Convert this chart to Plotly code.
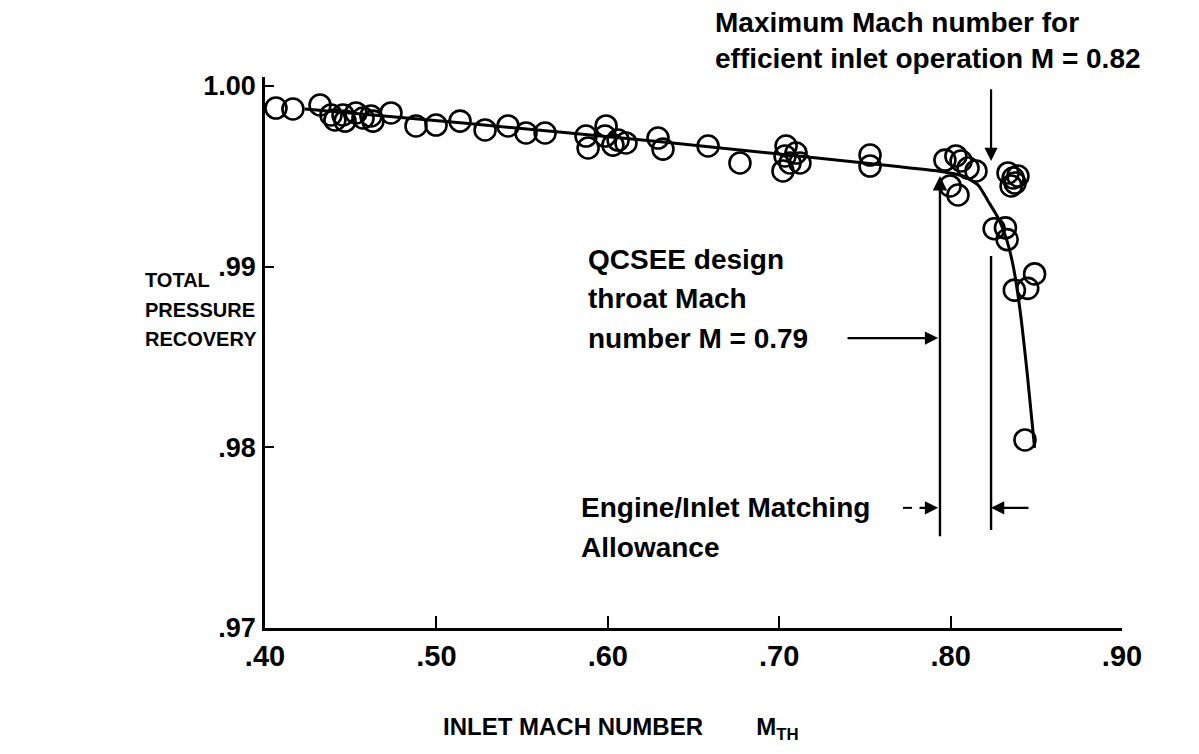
import plotly.graph_objects as go

# ---------------- data ----------------
mach = [0.4064, 0.4163, 0.4321, 0.4385, 0.4408, 0.4467, 0.4455, 0.4531, 0.4572,
        0.4618, 0.4630, 0.4735, 0.4881, 0.4998, 0.5138, 0.5284, 0.5418, 0.5523,
        0.5634, 0.5873, 0.5885, 0.5990, 0.5984, 0.6030, 0.6106, 0.6060, 0.6293,
        0.6322, 0.6585, 0.6771, 0.7040, 0.7034, 0.7098, 0.7022, 0.7121, 0.7063,
        0.7530, 0.7530, 0.7967, 0.8031, 0.8061, 0.8102, 0.8148, 0.8043, 0.7997,
        0.8335, 0.8365, 0.8376, 0.8393, 0.8353, 0.8254, 0.8320, 0.8330, 0.8490,
        0.8372, 0.8450, 0.8434]
recovery = [0.99878, 0.99873, 0.99895, 0.99840, 0.99812, 0.99806, 0.99840, 0.99851,
            0.99823, 0.99834, 0.99806, 0.99851, 0.99779, 0.99784, 0.99806, 0.99757,
            0.99779, 0.99740, 0.99740, 0.99723, 0.99657, 0.99779, 0.99723, 0.99673,
            0.99685, 0.99701, 0.99712, 0.99651, 0.99668, 0.99574, 0.99668, 0.99613,
            0.99629, 0.99530, 0.99574, 0.99574, 0.99618, 0.99557, 0.99590, 0.99613,
            0.99585, 0.99546, 0.99530, 0.99397, 0.99447, 0.99519, 0.99491, 0.99463,
            0.99502, 0.99447, 0.99210, 0.99215, 0.99150, 0.98960, 0.98870, 0.98880,
            0.98041]

curve_mach = [0.4233, 0.5155, 0.6322, 0.7664, 0.7927, 0.8072, 0.8160, 0.8218,
              0.8277, 0.8330, 0.8368, 0.8405, 0.8448, 0.8490]
curve_recovery = [0.99873, 0.99795, 0.99690, 0.99557, 0.99530, 0.99502, 0.99452,
                  0.99364, 0.99270, 0.99140, 0.98990, 0.98760, 0.98400, 0.97997]

x_tickvals = [0.40, 0.50, 0.60, 0.70, 0.80, 0.90]
x_ticktext = [".40", ".50", ".60", ".70", ".80", ".90"]
y_tickvals = [0.97, 0.98, 0.99, 1.00]
y_ticktext = [".97", ".98", ".99", "1.00"]

design_mach = 0.7938      # QCSEE design throat Mach (drawn position)
max_mach = 0.8236         # maximum Mach for efficient inlet operation (drawn position)

FONT = "Liberation Sans"
INK = "#000000"

fig = go.Figure()

fig.add_trace(go.Scatter(x=curve_mach, y=curve_recovery, mode="lines",
                         line=dict(color=INK, width=3, shape="spline", smoothing=0.6),
                         hoverinfo="skip", showlegend=False))
fig.add_trace(go.Scatter(x=mach, y=recovery, mode="markers",
                         marker=dict(symbol="circle-open", size=21,
                                     line=dict(color=INK, width=2.6), color=INK),
                         showlegend=False))

# vertical line at design Mach with arrowhead pointing up to the curve
fig.add_annotation(x=design_mach, y=0.99502, ax=design_mach, ay=0.97499,
                   xref="x", yref="y", axref="x", ayref="y", text="",
                   showarrow=True, arrowhead=2, arrowsize=1.2, arrowwidth=2.4,
                   arrowcolor=INK)
# vertical line at max Mach
fig.add_shape(type="line", x0=max_mach, x1=max_mach, y0=0.97543, y1=0.99059,
              xref="x", yref="y", line=dict(color=INK, width=2.4))
# arrow for max Mach
fig.add_annotation(x=max_mach, y=0.99585, ax=max_mach, ay=0.99990,
                   xref="x", yref="y", axref="x", ayref="y", text="",
                   showarrow=True, arrowhead=2, arrowsize=1.2, arrowwidth=2.2,
                   arrowcolor=INK)
# design arrow
fig.add_annotation(x=0.7927, y=0.98605, ax=0.7390, ay=0.98605,
                   xref="x", yref="y", axref="x", ayref="y", text="",
                   showarrow=True, arrowhead=2, arrowsize=1.2, arrowwidth=2.2,
                   arrowcolor=INK)
# matching allowance arrows
fig.add_shape(type="line", x0=0.7722, x1=0.7810, y0=0.97665, y1=0.97665,
              xref="x", yref="y", line=dict(color=INK, width=2, dash="dash"))
fig.add_annotation(x=0.7927, y=0.97665, ax=0.7810, ay=0.97665,
                   xref="x", yref="y", axref="x", ayref="y", text="",
                   showarrow=True, arrowhead=2, arrowsize=1.2, arrowwidth=2.2,
                   arrowcolor=INK)
fig.add_annotation(x=max_mach, y=0.97665, ax=0.8463, ay=0.97665,
                   xref="x", yref="y", axref="x", ayref="y", text="",
                   showarrow=True, arrowhead=2, arrowsize=1.2, arrowwidth=2.2,
                   arrowcolor=INK)

txt_font = dict(family=FONT, size=28, color=INK, weight="bold")
fig.add_annotation(x=0.523, y=1.13, xref="paper", yref="paper", xanchor="left",
                   yanchor="top", align="left", showarrow=False,
                   text="Maximum Mach number for<br>efficient inlet operation M = 0.82",
                   font=txt_font)
qcsee_lines = ["QCSEE design", "throat Mach", "number M = 0.79"]
qcsee_y = [0.99040, 0.98822, 0.98605]
for line_text, yy in zip(qcsee_lines, qcsee_y):
    fig.add_annotation(x=0.5875, y=yy, xref="x", yref="y", xanchor="left",
                       yanchor="middle", align="left", showarrow=False,
                       text=line_text, font=txt_font)
engine_lines = ["Engine/Inlet Matching", "Allowance"]
engine_y = [0.97665, 0.97445]
for line_text, yy in zip(engine_lines, engine_y):
    fig.add_annotation(x=0.5830, y=yy, xref="x", yref="y", xanchor="left",
                       yanchor="middle", align="left", showarrow=False,
                       text=line_text, font=txt_font)

# axis titles
ytitle_lines = ["TOTAL", "PRESSURE", "RECOVERY"]
ytitle_pos = [0.632, 0.578, 0.524]
for line_text, yy in zip(ytitle_lines, ytitle_pos):
    fig.add_annotation(x=-0.142, y=yy, xref="paper", yref="paper", xanchor="left",
                       yanchor="middle", align="left", showarrow=False,
                       text=line_text,
                       font=dict(family=FONT, size=20, color=INK, weight="bold"))
fig.add_annotation(x=0.205, y=-0.183, xref="paper", yref="paper", xanchor="left",
                   yanchor="middle", align="left", showarrow=False,
                   text="INLET MACH NUMBER &nbsp;&nbsp;&nbsp;&nbsp;&nbsp;&nbsp; M<sub>TH</sub>",
                   font=dict(family=FONT, size=24, color=INK, weight="bold"))

fig.update_xaxes(range=[0.40, 0.90], tickvals=x_tickvals, ticktext=x_ticktext,
                 showline=True, linecolor=INK, linewidth=2.5, ticks="inside",
                 ticklen=12, tickwidth=2, tickcolor=INK, showgrid=False,
                 zeroline=False, ticklabelstandoff=0,
                 tickfont=dict(family=FONT, size=29, color=INK, weight="bold"))
fig.update_yaxes(range=[0.97, 1.0005], tickvals=y_tickvals, ticktext=y_ticktext,
                 showline=True, linecolor=INK, linewidth=2.5, ticks="inside",
                 ticklen=9, tickwidth=2, tickcolor=INK, showgrid=False,
                 zeroline=False, ticklabelstandoff=1,
                 tickfont=dict(family=FONT, size=27, color=INK, weight="bold"))

fig.update_layout(width=1199, height=754, plot_bgcolor="white", paper_bgcolor="white",
                  margin=dict(l=257, r=85, t=69, b=134), showlegend=False)

fig.write_html("out.html")
